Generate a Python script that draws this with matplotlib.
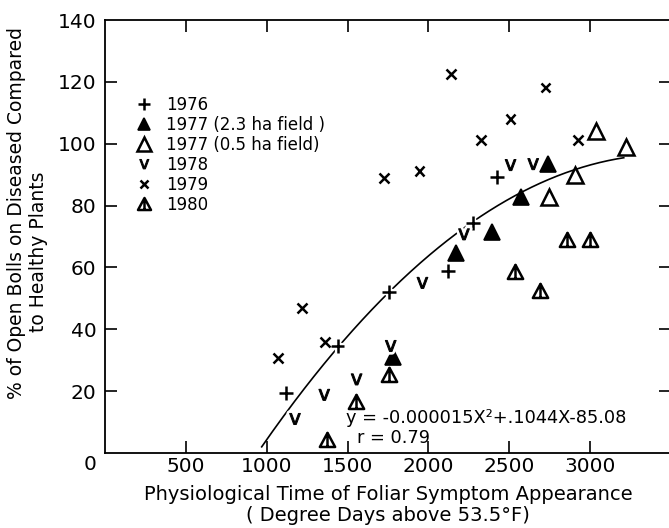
import numpy as np
import matplotlib
matplotlib.use("Agg")
import matplotlib.pyplot as plt
from matplotlib.path import Path
import matplotlib.patheffects as pe

# ---- data ----
x1976 = [1119, 1438, 1757, 2121, 2278, 2422]
y1976 = [19.5, 34.6, 52.0, 58.9, 74.3, 89.3]

x1977a = [1778, 2169, 2395, 2574, 2741]          # 2.3 ha field (filled)
y1977a = [30.9, 64.8, 71.6, 82.9, 93.4]

x1977b = [2747, 2909, 3039, 3224]                # 0.5 ha field (open)
y1977b = [82.9, 89.9, 104.2, 98.8]

x1978 = [1175, 1356, 1556, 1767, 1963, 2220, 2508, 2648]
y1978 = [11.0, 18.8, 23.8, 34.6, 55.0, 70.7, 93.1, 93.4]

x1979 = [1068, 1216, 1360, 1726, 1945, 2138, 2327, 2508, 2724, 2923]
y1979 = [30.6, 46.9, 36.0, 88.8, 91.1, 122.5, 101.2, 107.9, 118.2, 101.2]

x1980 = [1372, 1551, 1757, 2533, 2689, 2854, 2998]
y1980 = [4.2, 16.6, 25.2, 58.6, 52.4, 68.9, 68.9]

labels = ["1976", "1977 (2.3 ha field )", "1977 (0.5 ha field)", "1978", "1979", "1980"]

# fitted curve  y = a x^2 + b x + c
coef_a, coef_b, coef_c = -0.000015, 0.1044, -85.08
fit_x_range = (969, 3208)

xticks = [500, 1000, 1500, 2000, 2500, 3000]
yticks = [20, 40, 60, 80, 100, 120, 140]

plt.rcParams['font.family'] = ['DejaVu Sans']

fig = plt.figure(figsize=(6.69, 5.28), dpi=100)
ax = fig.add_axes([105 / 669, 75 / 528, 566 / 669, 433 / 528])
ax.set_xlim(0, 3500)
ax.set_ylim(0, 140)

# curve
xf = np.linspace(fit_x_range[0], fit_x_range[1], 300)
ax.plot(xf, coef_a * xf**2 + coef_b * xf + coef_c, color='black', lw=1.2, zorder=2)

halo = [pe.withStroke(linewidth=4.5, foreground='white')]

tri_line = Path([(-1, -0.85), (1, -0.85), (0, 1.0), (-1, -0.85), (0, 1.0), (0, -0.85)],
                [Path.MOVETO, Path.LINETO, Path.LINETO, Path.CLOSEPOLY, Path.MOVETO, Path.LINETO])

h = []
h += ax.plot(x1976, y1976, ls='none', marker='+', ms=10, mew=1.8, color='black',
             label=labels[0], zorder=3, path_effects=halo)
h += ax.plot(x1977a, y1977a, ls='none', marker='^', ms=11, mew=1.2, mfc='black', mec='black',
             label=labels[1], zorder=3)
h += ax.plot(x1977b, y1977b, ls='none', marker='^', ms=12, mew=1.8, mfc='white', mec='black',
             label=labels[2], zorder=3)
h += ax.plot(x1978, y1978, ls='none', marker=r'$\mathsf{v}$', ms=8, mew=0.7, color='black',
             label=labels[3], zorder=3, path_effects=halo)
h += ax.plot(x1979, y1979, ls='none', marker='x', ms=7, mew=1.8, color='black',
             label=labels[4], zorder=3, path_effects=halo)
h += ax.plot(x1980, y1980, ls='none', marker=tri_line, ms=11, mew=1.8, mfc='white', mec='black',
             label=labels[5], zorder=3)

leg = ax.legend(handles=h, loc='upper left', bbox_to_anchor=(136 / 669, 1 - 96 / 528),
                bbox_transform=fig.transFigure, frameon=False, borderpad=0, borderaxespad=0,
                handlelength=1.0, handletextpad=0.8, labelspacing=0.12, fontsize=12,
                numpoints=1, markerscale=0.85)

# axes styling
for s in ax.spines.values():
    s.set_linewidth(1.3)
ax.set_xticks(xticks)
ax.set_yticks(yticks)
ax.set_yticklabels([str(v) for v in yticks])
ax.tick_params(axis='both', direction='in', length=8.5, width=1.2, labelsize=14.5,
               top=True, right=True)
ax.tick_params(axis='x', pad=3)
ax.tick_params(axis='y', pad=6)
ax.yaxis.get_major_ticks()[-1].tick1line.set_visible(False)
ax.yaxis.get_major_ticks()[-1].tick2line.set_visible(False)
fig.text(90 / 669, 1 - 465 / 528, "0", fontsize=14.5, ha='center', va='center')

ax.set_xlabel("Physiological Time of Foliar Symptom Appearance\n( Degree Days above 53.5°F)",
              fontsize=14, labelpad=6, linespacing=1.15)
fig.text(17 / 669, 1 - 213 / 528, "% of Open Bolls on Diseased Compared", rotation=90,
         fontsize=13.5, ha='center', va='center')
fig.text(38.5 / 669, 1 - 252 / 528, "to Healthy Plants", rotation=90,
         fontsize=13.5, ha='center', va='center')

ax.text(1491, 11.3, "y = -0.000015X²+.1044X-85.08", fontsize=12.8, ha='left', va='center')
ax.text(1559, 4.9, "r = 0.79", fontsize=12.8, ha='left', va='center')

fig.savefig("out.png", dpi=100)
